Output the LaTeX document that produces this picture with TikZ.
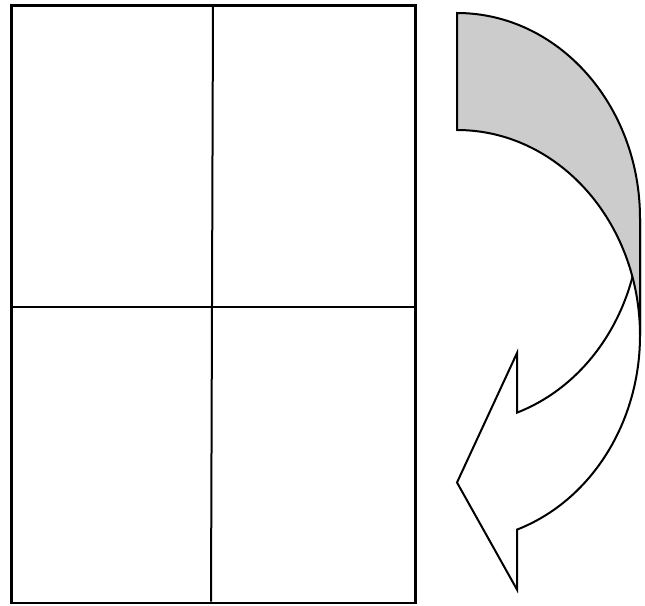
\documentclass[tikz,border=0pt]{standalone}
\usepackage{tikz}
\definecolor{backgray}{HTML}{CCCCCC}
\tikzset{
  frame/.style={draw=black,line width=2.4pt},
  divider/.style={draw=black,line width=2pt},
  arrowfront/.style={draw=black,fill=white,line width=2pt,line join=miter},
  arrowback/.style={draw=black,fill=backgray,line width=2pt,line join=miter}
}
\begin{document}
\begin{tikzpicture}[x=1pt,y=-1pt]
\useasboundingbox (0,0) rectangle (645,605);
% sheet
\draw[frame] (11.5,5.5) rectangle (415.5,603);
\coordinate (vt) at (213,6);
\coordinate (vb) at (211,601.5);
\coordinate (hl) at (10,307.3);
\coordinate (hr) at (417,307.3);
\draw[divider] (vt) -- (vb);
\draw[divider] (hl) -- (hr);
% curved arrow: front (white) part
\draw[arrowfront] (640,218.5)
  arc[start angle=0,end angle=70.86,x radius=183,y radius=205.5]
  -- (517,353) -- (457,482.5) -- (517,589.6) -- (517,529.6)
  arc[start angle=70.86,end angle=0,x radius=183,y radius=205.5]
  -- cycle;
% curved arrow: back (gray) part
\draw[arrowback] (457,13)
  arc[start angle=-90,end angle=0,x radius=183,y radius=205.5]
  -- (640,335.5)
  arc[start angle=0,end angle=-90,x radius=183,y radius=205.5]
  -- cycle;
\end{tikzpicture}
\end{document}
